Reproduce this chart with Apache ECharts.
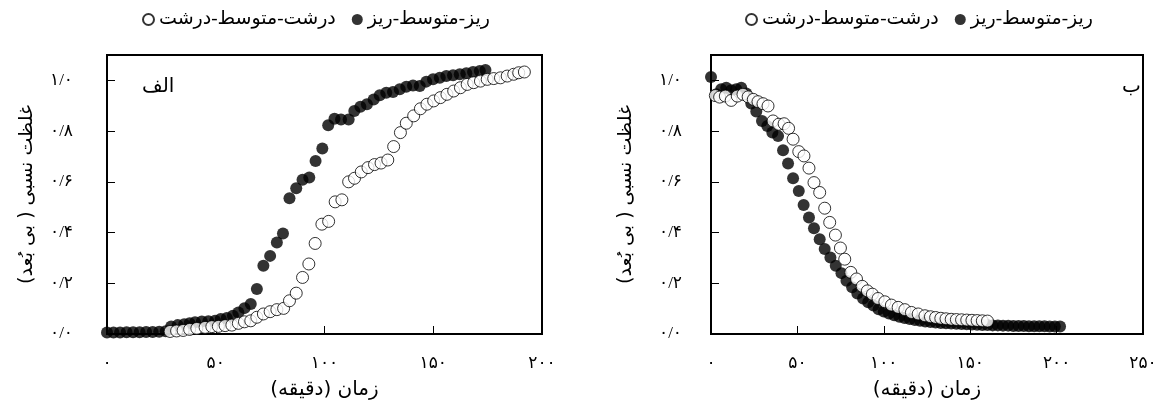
<!DOCTYPE html>
<html>
<head>
<meta charset="utf-8">
<script src="https://cdn.jsdelivr.net/npm/echarts@6/dist/echarts.min.js"></script>
<style>
html,body{margin:0;padding:0;background:#fff;}
#c{width:1162px;height:405px;}
</style>
</head>
<body>
<div id="c"></div>
<script>
// ---- names & labels ----
const nameOpen = 'درشت-متوسط-درشت';   // open circles
const nameFilled = 'ریز-متوسط-ریز';    // filled circles
const xAxisName = '\u200Fزمان (دقیقه)\u200F';
const yAxisName = '\u200Fغلظت نسبی ( بی بُعد)\u200F';
const panelLabels = ['الف', 'ب'];
const xTickLabels = ['۰', '۵۰', '۱۰۰', '۱۵۰', '۲۰۰', '۲۵۰'];
const yTickLabels = ['۰/۰', '۰/۲', '۰/۴', '۰/۶', '۰/۸', '۱/۰'];

// ---- panel الف (left) ----
const leftFilledT = [0,3,6,9,12,15,18,21,24,27,29.5,32.5,35.5,38,40.5,43.6,46.6,49.7,52.3,55.1,57.9,60.4,63.2,66.1,68.9,71.9,75.0,78.1,80.9,83.9,87.0,89.9,93.0,95.9,99.0,101.7,104.6,107.6,111.1,113.7,116.5,119.5,122.6,125.4,128.4,131.5,134.6,137.6,140.7,143.8,146.8,149.9,153.0,156.0,159.1,162.2,165.2,168.3,171.4,174.0];
const leftFilledV = [0.006,0.006,0.006,0.007,0.007,0.007,0.008,0.008,0.009,0.011,0.030,0.035,0.038,0.042,0.046,0.049,0.050,0.052,0.059,0.063,0.072,0.085,0.102,0.118,0.177,0.269,0.308,0.361,0.396,0.535,0.575,0.608,0.617,0.682,0.731,0.823,0.849,0.846,0.846,0.879,0.896,0.906,0.925,0.941,0.951,0.954,0.965,0.975,0.980,0.978,0.995,1.004,1.010,1.017,1.020,1.024,1.028,1.033,1.037,1.041];
const leftOpenT = [29,32,35,38,41.3,45.1,48.2,51.2,54.3,57.4,60.4,63.2,66.1,68.9,71.9,75.0,78.1,81.2,83.9,87.0,89.9,92.8,95.7,98.8,101.9,104.9,108.0,111.1,113.8,116.9,120.0,123.0,126.0,129.1,131.8,134.9,137.6,141.0,144.1,147.1,150.2,153.3,156.3,159.4,162.5,165.6,168.6,171.7,174.8,177.8,180.9,184.0,187.0,189.3,191.9];
const leftOpenV = [0.010,0.012,0.014,0.018,0.022,0.026,0.029,0.030,0.033,0.035,0.042,0.048,0.052,0.066,0.079,0.088,0.096,0.101,0.131,0.161,0.223,0.276,0.357,0.433,0.444,0.521,0.529,0.600,0.614,0.639,0.656,0.668,0.674,0.686,0.739,0.794,0.831,0.860,0.888,0.906,0.919,0.932,0.945,0.958,0.971,0.984,0.991,0.997,1.004,1.007,1.010,1.017,1.024,1.030,1.033];

// ---- panel ب (right) ----
const rightFilledT = [0,3.1,5.9,8.8,11.7,14.6,17.5,20.4,23.3,26.2,29.5,32.6,35.5,38.8,41.7,44.6,47.5,50.8,53.6,56.7,59.6,62.9,65.8,69.1,72.2,75.5,78.4,81.7,84.7,88.0,91.0,94,97,100,103,106,109,112,115,118,121,124,127,130,133,136,139,142,145,148,151,154,157,160,163,166,169,172,175,178,181,184,187,190,193,196,199,202];
const rightFilledV = [1.013,0.945,0.965,0.971,0.961,0.965,0.971,0.948,0.909,0.877,0.840,0.820,0.794,0.781,0.724,0.672,0.614,0.564,0.509,0.459,0.417,0.374,0.335,0.302,0.269,0.240,0.210,0.184,0.160,0.140,0.125,0.112,0.098,0.089,0.081,0.074,0.068,0.063,0.059,0.055,0.052,0.049,0.047,0.045,0.043,0.042,0.041,0.040,0.039,0.038,0.037,0.036,0.035,0.035,0.034,0.034,0.033,0.033,0.032,0.032,0.032,0.031,0.031,0.031,0.031,0.030,0.030,0.030];
const rightOpenT = [2.5,5.0,8.3,11.7,15.2,18.5,21.5,24.5,27.2,30.1,33.0,35.9,39.2,42.3,44.9,47.5,50.8,53.8,56.7,59.6,62.9,65.8,68.7,72.0,74.9,77.4,80.9,84.2,87.5,90.5,93.4,96.7,100.6,104.4,108.3,112.2,116.0,119.9,123.8,127,130,133,136,139,142,145,148,151,154,157,160];
const rightOpenV = [0.940,0.934,0.938,0.921,0.938,0.945,0.935,0.925,0.916,0.908,0.899,0.840,0.827,0.829,0.811,0.768,0.719,0.702,0.654,0.597,0.558,0.496,0.440,0.390,0.339,0.295,0.243,0.217,0.188,0.170,0.157,0.140,0.127,0.114,0.105,0.096,0.085,0.079,0.072,0.068,0.065,0.062,0.060,0.058,0.057,0.056,0.055,0.054,0.053,0.052,0.051];

const zip = (a, b) => a.map((x, i) => [x, b[i]]);

const font = "'Liberation Serif', 'DejaVu Sans', serif";
const sansFont = "'DejaVu Sans', sans-serif";

function xAxisCfg(gridIndex, max, gap) {
  return {
    type: 'value', gridIndex, min: 0, max, interval: 50,
    name: xAxisName, nameLocation: 'middle', nameGap: gap,
    nameTextStyle: { fontFamily: sansFont, fontSize: 20, color: '#000' },
    axisLine: { show: true, lineStyle: { color: '#000', width: 2 } },
    axisTick: { show: true, inside: true, length: 8, lineStyle: { color: '#000', width: 1 } },
    axisLabel: { color: '#000', fontSize: 17, fontFamily: font, margin: 21,
      formatter: v => xTickLabels[Math.round(v / 50)] },
    splitLine: { show: false }
  };
}
function yAxisCfg(gridIndex, labelMargin, nameGap) {
  return {
    type: 'value', gridIndex, min: 0, max: 1.1, interval: 0.2,
    name: yAxisName, nameLocation: 'middle', nameGap,
    nameTextStyle: { fontFamily: sansFont, fontSize: 19, color: '#000' },
    axisLine: { show: true, lineStyle: { color: '#000', width: 2 } },
    axisTick: { show: true, inside: true, length: 8, lineStyle: { color: '#000', width: 1 } },
    axisLabel: { color: '#000', fontSize: 17, fontFamily: font, margin: labelMargin,
      formatter: v => { const i = Math.round(v / 0.2); return Math.abs(v - i * 0.2) < 1e-6 ? (yTickLabels[i] || '') : ''; } },
    splitLine: { show: false }
  };
}

const filledStyle = { color: '#000' };
const openStyle = { color: '#fff', borderColor: '#000', borderWidth: 1 };

const legendText = { fontSize: 19, color: '#000', fontFamily: font };

const option = {
  animation: false,
  backgroundColor: '#fff',
  textStyle: { fontFamily: font },
  title: [
    { text: panelLabels[0], left: 137, top: 72, textStyle: { fontFamily: font, fontSize: 20, fontWeight: 'normal', color: '#000' } },
    { text: panelLabels[1], left: 1117, top: 72, textStyle: { fontFamily: font, fontSize: 20, fontWeight: 'normal', color: '#000' } }
  ],
  legend: [
    { left: 137, top: 5, itemGap: 16, itemWidth: 11, itemHeight: 11, icon: 'circle',
      textStyle: legendText, data: [nameOpen, nameFilled] },
    { left: 740, top: 5, itemGap: 16, itemWidth: 11, itemHeight: 11, icon: 'circle',
      textStyle: legendText, data: [nameOpen, nameFilled] }
  ],
  grid: [
    { left: 107, right: 620, top: 55, bottom: 70, show: true, borderColor: '#000', borderWidth: 2, backgroundColor: 'transparent' },
    { left: 711, right: 19, top: 55, bottom: 70, show: true, borderColor: '#000', borderWidth: 2, backgroundColor: 'transparent' }
  ],
  xAxis: [xAxisCfg(0, 200, 46), xAxisCfg(1, 250, 46)],
  yAxis: [yAxisCfg(0, 34, 70), yAxisCfg(1, 29, 75)],
  series: [
    { type: 'scatter', name: nameFilled, xAxisIndex: 0, yAxisIndex: 0, data: zip(leftFilledT, leftFilledV), symbolSize: 12, itemStyle: filledStyle, clip: false, z: 2 },
    { type: 'scatter', name: nameOpen, xAxisIndex: 0, yAxisIndex: 0, data: zip(leftOpenT, leftOpenV), symbolSize: 12, itemStyle: openStyle, clip: false, z: 3 },
    { type: 'scatter', name: nameFilled, xAxisIndex: 1, yAxisIndex: 1, data: zip(rightFilledT, rightFilledV), symbolSize: 12, itemStyle: filledStyle, clip: false, z: 2 },
    { type: 'scatter', name: nameOpen, xAxisIndex: 1, yAxisIndex: 1, data: zip(rightOpenT, rightOpenV), symbolSize: 12, itemStyle: openStyle, clip: false, z: 3 }
  ]
};

const chart = echarts.init(document.getElementById('c'), null, { renderer: 'canvas' });
chart.setOption(option);
</script>
</body>
</html>
